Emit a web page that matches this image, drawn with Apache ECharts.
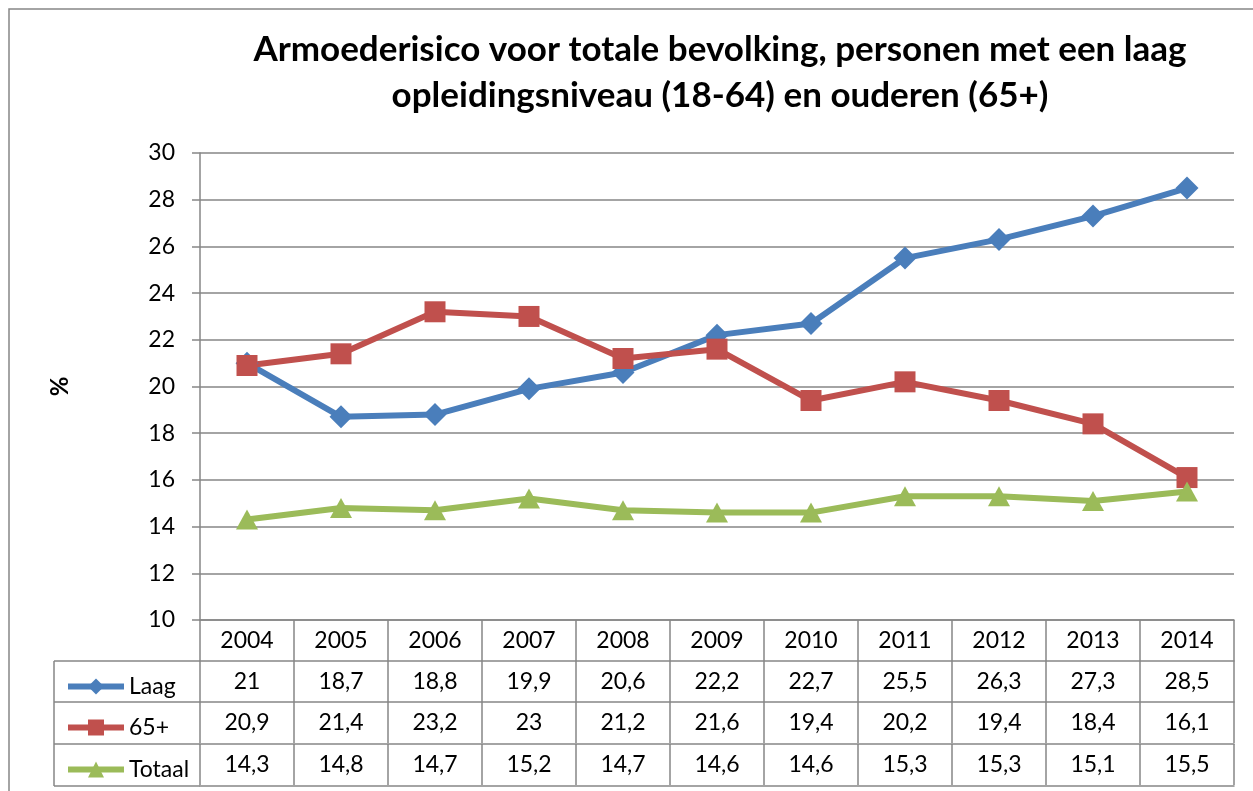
<!DOCTYPE html>
<html>
<head>
<meta charset="utf-8">
<script src="https://cdn.jsdelivr.net/npm/echarts@6/dist/echarts.min.js"></script>
<style>
  html, body { margin: 0; padding: 0; background: #fff; }
  #app { width: 1253px; height: 791px; }
</style>
</head>
<body>
<div id="app"></div>
<script>
const years = ['2004', '2005', '2006', '2007', '2008', '2009', '2010', '2011', '2012', '2013', '2014']
const laag = [21, 18.7, 18.8, 19.9, 20.6, 22.2, 22.7, 25.5, 26.3, 27.3, 28.5]
const oud = [20.9, 21.4, 23.2, 23, 21.2, 21.6, 19.4, 20.2, 19.4, 18.4, 16.1]
const totaal = [14.3, 14.8, 14.7, 15.2, 14.7, 14.6, 14.6, 15.3, 15.3, 15.1, 15.5]
const names = ['Laag', '65+', 'Totaal']
const yTicks = { min: 10, max: 30, interval: 2 }

const font = 'Lato'
const gray = '#868686'
const fmt = v => String(v).replace('.', ',')

// table rows under the plot, each one is an extra category axis
function tableAxis(offset, values, showLabel) {
  return {
    type: 'category',
    gridIndex: 0,
    position: 'bottom',
    offset: offset,
    data: values,
    axisLine: { show: true, lineStyle: { color: gray, width: 1.5 } },
    axisTick: { show: showLabel, length: 41, interval: 0, lineStyle: { color: gray, width: 1.5 } },
    axisLabel: { show: showLabel, interval: 0, margin: 9, fontFamily: font, fontSize: 23, lineHeight: 23, color: '#000' }
  }
}

// one legend per table row
function rowLegend(name, top) {
  return {
    orient: 'vertical',
    left: 60,
    top: top,
    itemWidth: 56,
    itemHeight: 20,
    itemGap: 10,
    lineStyle: { width: 6 },
    textStyle: { fontFamily: font, fontSize: 23, lineHeight: 20, color: '#000' },
    data: [name]
  }
}

const chart = echarts.init(document.getElementById('app'))
chart.setOption({
  animation: false,
  title: {
    text: 'Armoederisico voor totale bevolking, personen met een laag\nopleidingsniveau (18-64) en ouderen (65+)',
    left: 715,
    top: 22,
    textAlign: 'center',
    textStyle: { fontFamily: font, fontSize: 35, fontWeight: 'bold', color: '#000', lineHeight: 46 }
  },
  legend: [
    rowLegend(names[0], 670),
    rowLegend(names[1], 711),
    rowLegend(names[2], 753)
  ],
  grid: { left: 200, top: 153, right: 19, bottom: 171 },
  xAxis: [
    tableAxis(0, years, true),
    tableAxis(41, laag.map(fmt), true),
    tableAxis(82, oud.map(fmt), true),
    tableAxis(124, totaal.map(fmt), true),
    tableAxis(166, years, false)
  ],
  yAxis: {
    type: 'value',
    min: yTicks.min,
    max: yTicks.max,
    interval: yTicks.interval,
    name: '%',
    nameLocation: 'middle',
    nameRotate: 90,
    nameGap: 128,
    nameTextStyle: { fontFamily: font, fontSize: 24, fontWeight: 'bold', color: '#000' },
    axisLine: { show: true, lineStyle: { color: gray, width: 1.5 } },
    axisTick: { show: true, length: 8, lineStyle: { color: gray, width: 1.5 } },
    axisLabel: { margin: 25, fontFamily: font, fontSize: 23, color: '#000' },
    splitLine: { lineStyle: { color: gray, width: 1.5 } }
  },
  series: [
    {
      name: names[0], type: 'line', data: laag,
      symbol: 'diamond', symbolSize: 23,
      lineStyle: { color: '#4a7ebb', width: 6 },
      itemStyle: { color: '#4a7ebb' }
    },
    {
      name: names[1], type: 'line', data: oud,
      symbol: 'rect', symbolSize: 21,
      lineStyle: { color: '#c0504d', width: 6 },
      itemStyle: { color: '#c0504d' }
    },
    {
      name: names[2], type: 'line', data: totaal,
      symbol: 'triangle', symbolSize: [22, 20],
      lineStyle: { color: '#9bbb59', width: 6 },
      itemStyle: { color: '#9bbb59' }
    }
  ],
  graphic: [
    // outer chart border
    { type: 'rect', shape: { x: 9, y: 9, width: 1300, height: 830 }, style: { fill: 'none', stroke: gray, lineWidth: 1.5 }, silent: true },
    // legend column of the data table
    { type: 'line', shape: { x1: 54, y1: 661, x2: 54, y2: 786 }, style: { stroke: gray, lineWidth: 1.5 } },
    { type: 'line', shape: { x1: 54, y1: 661, x2: 200, y2: 661 }, style: { stroke: gray, lineWidth: 1.5 } },
    { type: 'line', shape: { x1: 54, y1: 702, x2: 200, y2: 702 }, style: { stroke: gray, lineWidth: 1.5 } },
    { type: 'line', shape: { x1: 54, y1: 744, x2: 200, y2: 744 }, style: { stroke: gray, lineWidth: 1.5 } },
    { type: 'line', shape: { x1: 54, y1: 786, x2: 200, y2: 786 }, style: { stroke: gray, lineWidth: 1.5 } }
  ]
})
</script>
</body>
</html>
